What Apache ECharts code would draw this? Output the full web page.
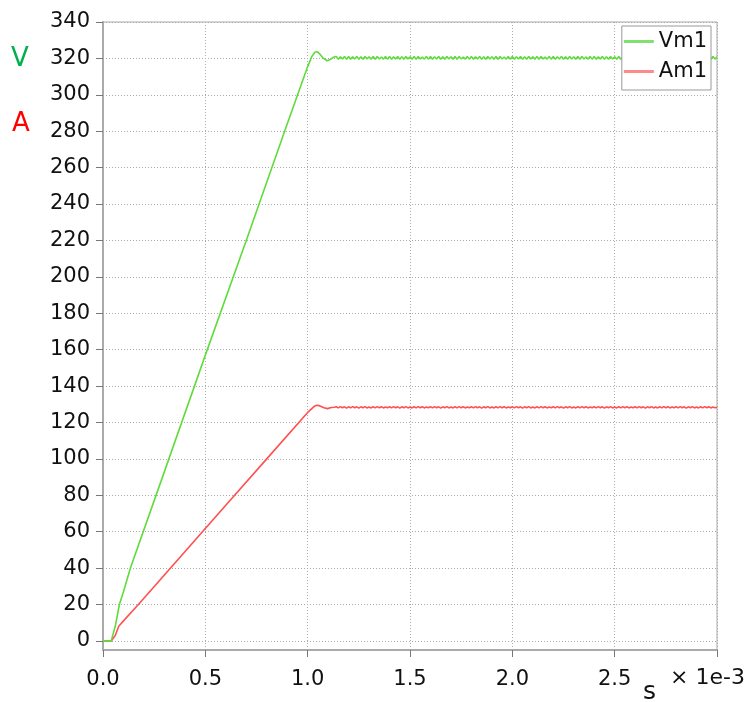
<!DOCTYPE html>
<html><head><meta charset="utf-8">
<script src="https://cdn.jsdelivr.net/npm/echarts@6/dist/echarts.min.js"></script>
<style>html,body{margin:0;padding:0;background:#fff}#c{width:747px;height:702px}</style>
</head><body><div id="c"></div>
<script>
// ---- data (time in units of 1e-3 s) ----
const yTickValues = [0,20,40,60,80,100,120,140,160,180,200,220,240,260,280,300,320,340];
const xTickValues = [0,0.5,1.0,1.5,2.0,2.5];
const seriesNames = ['Vm1','Am1'];

const vmTime = [0,0.04,0.06,0.08,0.10,0.134,0.3,0.5,0.7,0.9,1.0,1.02,1.035,1.046,1.06,1.075,1.095,1.11,1.125];
const vmTransient = [0,0,8,20,27,40,93,157,220,284,315.5,321,323.4,323.7,322.3,320.2,318.7,319.4,320.6];

const amTime = [0,0.04,0.06,0.077,0.10,0.173,0.4,0.6,0.8,1.0,1.02,1.035,1.046,1.06,1.08,1.097,1.115,1.13];
const amTransient = [0,0,3,8,11,20,49,74.5,100,125.5,127.6,129.1,129.5,129.1,128.1,127.6,128.2,128.4];

const rippleTime = [1.14,1.15,1.16,1.17,1.18,1.19,
1.20,1.21,1.22,1.23,1.24,1.25,1.26,1.27,1.28,1.29,
1.30,1.31,1.32,1.33,1.34,1.35,1.36,1.37,1.38,1.39,
1.40,1.41,1.42,1.43,1.44,1.45,1.46,1.47,1.48,1.49,
1.50,1.51,1.52,1.53,1.54,1.55,1.56,1.57,1.58,1.59,
1.60,1.61,1.62,1.63,1.64,1.65,1.66,1.67,1.68,1.69,
1.70,1.71,1.72,1.73,1.74,1.75,1.76,1.77,1.78,1.79,
1.80,1.81,1.82,1.83,1.84,1.85,1.86,1.87,1.88,1.89,
1.90,1.91,1.92,1.93,1.94,1.95,1.96,1.97,1.98,1.99,
2.00,2.01,2.02,2.03,2.04,2.05,2.06,2.07,2.08,2.09,
2.10,2.11,2.12,2.13,2.14,2.15,2.16,2.17,2.18,2.19,
2.20,2.21,2.22,2.23,2.24,2.25,2.26,2.27,2.28,2.29,
2.30,2.31,2.32,2.33,2.34,2.35,2.36,2.37,2.38,2.39,
2.40,2.41,2.42,2.43,2.44,2.45,2.46,2.47,2.48,2.49,
2.50,2.51,2.52,2.53,2.54,2.55,2.56,2.57,2.58,2.59,
2.60,2.61,2.62,2.63,2.64,2.65,2.66,2.67,2.68,2.69,
2.70,2.71,2.72,2.73,2.74,2.75,2.76,2.77,2.78,2.79,
2.80,2.81,2.82,2.83,2.84,2.85,2.86,2.87,2.88,2.89,
2.90,2.91,2.92,2.93,2.94,2.95,2.96,2.97,2.98,2.99,
3.00];

const vmRipple = [321.0,319.6,320.9,319.7,321.1,319.5,
321.0,319.6,320.9,319.7,321.1,319.5,320.9,319.6,321.0,319.7,
320.9,319.6,321.0,319.5,321.0,319.7,320.8,319.6,321.1,319.6,
321.0,319.6,320.9,319.7,321.1,319.5,320.9,319.6,321.0,319.7,
320.9,319.6,321.0,319.5,321.0,319.7,320.8,319.6,321.1,319.6,
321.0,319.6,320.9,319.7,321.1,319.5,320.9,319.6,321.0,319.7,
320.9,319.6,321.0,319.5,321.0,319.7,320.8,319.6,321.1,319.6,
321.0,319.6,320.9,319.7,321.1,319.5,320.9,319.6,321.0,319.7,
320.9,319.6,321.0,319.5,321.0,319.7,320.8,319.6,321.1,319.6,
321.0,319.6,320.9,319.7,321.1,319.5,320.9,319.6,321.0,319.7,
320.9,319.6,321.0,319.5,321.0,319.7,320.8,319.6,321.1,319.6,
321.0,319.6,320.9,319.7,321.1,319.5,320.9,319.6,321.0,319.7,
320.9,319.6,321.0,319.5,321.0,319.7,320.8,319.6,321.1,319.6,
321.0,319.6,320.9,319.7,321.1,319.5,320.9,319.6,321.0,319.7,
320.9,319.6,321.0,319.5,321.0,319.7,320.8,319.6,321.1,319.6,
321.0,319.6,320.9,319.7,321.1,319.5,320.9,319.6,321.0,319.7,
320.9,319.6,321.0,319.5,321.0,319.7,320.8,319.6,321.1,319.6,
321.0,319.6,320.9,319.7,321.1,319.5,320.9,319.6,321.0,319.7,
320.9,319.6,321.0,319.5,321.0,319.7,320.8,319.6,321.1,319.6,
320.9];

const amRipple = [128.6,128.0,128.7,128.1,128.6,127.9,
128.6,128.0,128.7,128.1,128.6,127.9,128.6,128.1,128.7,128.0,
128.5,128.0,128.6,128.0,128.7,128.1,128.6,128.0,128.5,128.1,
128.6,128.0,128.7,128.1,128.6,127.9,128.6,128.1,128.7,128.0,
128.5,128.0,128.6,128.0,128.7,128.1,128.6,128.0,128.5,128.1,
128.6,128.0,128.7,128.1,128.6,127.9,128.6,128.1,128.7,128.0,
128.5,128.0,128.6,128.0,128.7,128.1,128.6,128.0,128.5,128.1,
128.6,128.0,128.7,128.1,128.6,127.9,128.6,128.1,128.7,128.0,
128.5,128.0,128.6,128.0,128.7,128.1,128.6,128.0,128.5,128.1,
128.6,128.0,128.7,128.1,128.6,127.9,128.6,128.1,128.7,128.0,
128.5,128.0,128.6,128.0,128.7,128.1,128.6,128.0,128.5,128.1,
128.6,128.0,128.7,128.1,128.6,127.9,128.6,128.1,128.7,128.0,
128.5,128.0,128.6,128.0,128.7,128.1,128.6,128.0,128.5,128.1,
128.6,128.0,128.7,128.1,128.6,127.9,128.6,128.1,128.7,128.0,
128.5,128.0,128.6,128.0,128.7,128.1,128.6,128.0,128.5,128.1,
128.6,128.0,128.7,128.1,128.6,127.9,128.6,128.1,128.7,128.0,
128.5,128.0,128.6,128.0,128.7,128.1,128.6,128.0,128.5,128.1,
128.6,128.0,128.7,128.1,128.6,127.9,128.6,128.1,128.7,128.0,
128.5,128.0,128.6,128.0,128.7,128.1,128.6,128.0,128.5,128.1,
128.4];

// ---- build ----
const pairs = (t, v) => t.map((x, i) => [x, v[i]]);
const vmData = pairs(vmTime, vmTransient).concat(pairs(rippleTime, vmRipple));
const amData = pairs(amTime, amTransient).concat(pairs(rippleTime, amRipple));

const FONT = 'DejaVu Sans';
const chart = echarts.init(document.getElementById('c'));
chart.setOption({
  animation: false,
  backgroundColor: '#fff',
  grid: {left: 103, right: 30, top: 22, bottom: 52, show: true, borderColor: '#aaa', borderWidth: 1, backgroundColor: 'transparent'},
  xAxis: {
    type: 'value', min: 0, max: 3, interval: 0.5,
    axisLine: {show: true, onZero: false, lineStyle: {color: '#aaa', width: 2}},
    axisTick: {show: true, length: 7, lineStyle: {color: '#777'}},
    axisLabel: {fontSize: 21, color: '#111', margin: 19, fontFamily: FONT,
      formatter: v => (v >= 3 ? '' : v.toFixed(1))},
    splitLine: {show: true, lineStyle: {type: [1, 2], color: '#aaa', width: 1}}
  },
  yAxis: {
    type: 'value', min: -5, max: 340,
    axisLine: {show: true, onZero: false, lineStyle: {color: '#aaa', width: 2}},
    axisTick: {show: true, length: 7, customValues: yTickValues, lineStyle: {color: '#777'}},
    axisLabel: {customValues: yTickValues, fontSize: 21, color: '#111', margin: 13, fontFamily: FONT},
    splitLine: {show: true, lineStyle: {type: [1, 2], color: '#aaa', width: 1}}
  },
  legend: {
    data: seriesNames, orient: 'vertical', right: 36, top: 26,
    backgroundColor: '#fff', borderColor: '#999', borderWidth: 1,
    padding: [5, 4, 8, 2], itemGap: 9, itemWidth: 30, itemHeight: 3, icon: 'rect',
    textStyle: {fontSize: 21, color: '#111', fontFamily: FONT}
  },
  graphic: [
    {type: 'text', left: 11, top: 46, style: {text: 'V', fontSize: 26, fill: '#00b050', fontFamily: FONT}},
    {type: 'text', left: 12, top: 111, style: {text: 'A', fontSize: 26, fill: '#ff0000', fontFamily: FONT}},
    {type: 'text', left: 670, top: 667, style: {text: '× 1e-3', fontSize: 22, fill: '#111', fontFamily: FONT}},
    {type: 'text', left: 643, top: 680, style: {text: 's', fontSize: 25, fill: '#111', fontFamily: FONT}}
  ],
  series: [
    {name: seriesNames[0], type: 'line', data: vmData, symbol: 'none', showSymbol: false,
      lineStyle: {color: '#5fdc3c', width: 1.6}, itemStyle: {color: '#80e070'}, z: 3},
    {name: seriesNames[1], type: 'line', data: amData, symbol: 'none', showSymbol: false,
      lineStyle: {color: '#ff5050', width: 1.6}, itemStyle: {color: '#ff8a8a'}, z: 2}
  ]
});
</script>
</body></html>
